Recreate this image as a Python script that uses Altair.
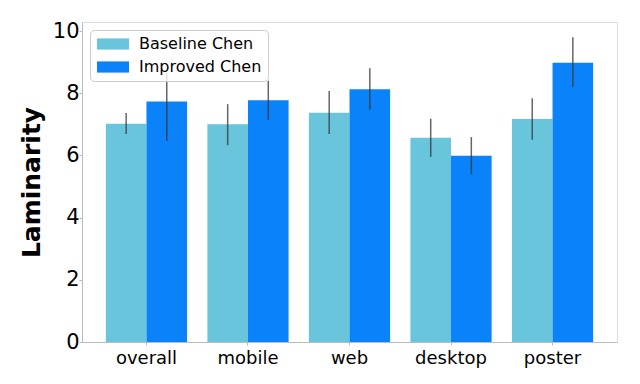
import altair as alt
import pandas as pd

categories = ["overall", "mobile", "web", "desktop", "poster"]
series = ["Baseline Chen", "Improved Chen"]
baseline = [7.02, 7.00, 7.37, 6.57, 7.17]
baseline_lo = [6.69, 6.33, 6.69, 5.95, 6.50]
baseline_hi = [7.36, 7.65, 8.07, 7.18, 7.84]
improved = [7.73, 7.77, 8.13, 5.99, 8.98]
improved_lo = [6.46, 7.14, 7.48, 5.39, 8.19]
improved_hi = [8.65, 8.40, 8.80, 6.59, 9.80]
colors = ["#69c5dc", "#0a82fa"]

rows = []
for i, c in enumerate(categories):
    rows.append({"cat": c, "series": series[0], "v": baseline[i], "lo": baseline_lo[i], "hi": baseline_hi[i]})
    rows.append({"cat": c, "series": series[1], "v": improved[i], "lo": improved_lo[i], "hi": improved_hi[i]})
df = pd.DataFrame(rows)

FONT = "DejaVu Sans"

x = alt.X("cat:N", sort=categories, title=None,
          scale=alt.Scale(paddingInner=0.2, paddingOuter=0.235),
          axis=alt.Axis(labelAngle=0, labelFontSize=18, labelColor="#000000", labelFont=FONT,
                        tickSize=3, tickColor="#bbbbbb", domainColor="#bbbbbb", labelPadding=4))
xo = alt.XOffset("series:N", sort=series, scale=alt.Scale(paddingInner=0, paddingOuter=0))

bars = alt.Chart(df).mark_bar().encode(
    x=x,
    xOffset=xo,
    y=alt.Y("v:Q", title="Laminarity",
            scale=alt.Scale(domain=[0, 10.29], nice=False, zero=True),
            axis=alt.Axis(values=[0, 2, 4, 6, 8, 10], labelFontSize=21, labelColor="#000000",
                          labelFont=FONT, titleFont=FONT, titleFontSize=25, titleFontWeight="bold",
                          titleColor="#000000", titlePadding=8, tickSize=3, tickColor="#bbbbbb",
                          domainColor="#bbbbbb", grid=False, labelPadding=0)),
    color=alt.Color("series:N", sort=series, scale=alt.Scale(domain=series, range=colors),
                    legend=alt.Legend(title=None, orient="none", legendX=8, legendY=8,
                                      symbolType="M-2,-0.7H2V0.7H-2Z", symbolSize=256,
                                      symbolStrokeWidth=0, symbolOpacity=1,
                                      labelFontSize=16, labelFont=FONT, labelColor="#000000",
                                      labelOffset=18, symbolOffset=9, padding=6, rowPadding=7,
                                      fillColor="rgba(255,255,255,0.8)", strokeColor="#cccccc",
                                      cornerRadius=4, labelLimit=300)),
)

err = alt.Chart(df).mark_rule(color="#333333", opacity=0.75, strokeWidth=1.5).encode(
    x=alt.X("cat:N", sort=categories),
    xOffset=xo,
    y="lo:Q",
    y2="hi:Q",
)

chart = alt.layer(bars, err).properties(
    width=535, height=320,
    autosize=alt.AutoSizeParams(type="none"),
    padding={"left": 74, "top": 14, "right": 15, "bottom": 34},
).configure_view(stroke="#bbbbbb", strokeWidth=1).configure(font=FONT)

chart.save("out.html", embed_options={"renderer": "svg", "actions": False})
